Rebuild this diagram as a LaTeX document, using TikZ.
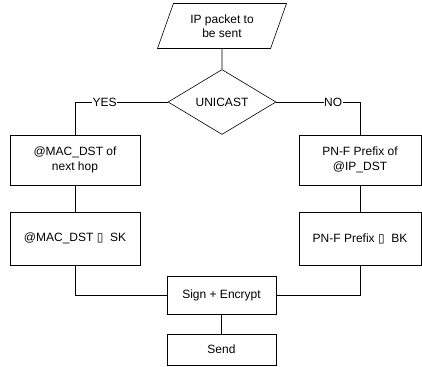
\documentclass[tikz,border=0pt]{standalone}
\usepackage{fontspec}
\setmainfont{Liberation Sans}
\newfontfamily\boxglyph{DejaVu Sans}
\usetikzlibrary{shapes.geometric}

\begin{document}
\begin{tikzpicture}[x=1pt,y=-1pt,
    every node/.style={font=\fontsize{12}{14.5}\selectfont},
    blk/.style={draw,line width=0.6pt,align=center,inner sep=2pt},
    line/.style={draw,line width=0.6pt},
    tag/.style={fill=white,inner sep=0.5pt}]
\useasboundingbox (0,0) rectangle (422,366);
% input and test
\node[blk,shape=trapezium,trapezium left angle=68,trapezium right angle=112,
      trapezium stretches=true,minimum width=130pt,minimum height=45pt] (pkt) at (222,26) {IP packet to\\be sent};
\node[blk,shape=diamond,minimum width=108pt,minimum height=65pt,aspect=1.66] (cast) at (222,102) {UNICAST};
% the two branches
\node[blk,minimum width=130pt,minimum height=50pt] (macdst) at (75,160) {@MAC\_DST of\\next hop};
\node[blk,minimum width=130pt,minimum height=53pt] (macsk) at (75,238.5) {@MAC\_DST {\boxglyph ▯}\ \ SK};
\node[blk,minimum width=122pt,minimum height=50pt] (pnf) at (360,160) {PN-F Prefix of\\@IP\_DST};
\node[blk,minimum width=122pt,minimum height=53pt] (pnfbk) at (360,238.5) {PN-F Prefix {\boxglyph ▯}\ \ BK};
% output
\node[blk,minimum width=109pt,minimum height=38pt] (sign) at (221.5,295) {Sign + Encrypt};
\node[blk,minimum width=109pt,minimum height=31pt] (send) at (221.5,349.5) {Send};

\draw[line] (pkt.south) -- (cast.north);
\draw[line] (cast.west) -| node[tag,pos=0.34] {YES} (macdst.north);
\draw[line] (cast.east) -| node[tag,pos=0.34] {NO} (pnf.north);
\draw[line] (macdst.south) -- (macsk.north);
\draw[line] (pnf.south) -- (pnfbk.north);
\draw[line] (macsk.south) |- (sign.west);
\draw[line] (pnfbk.south) |- (sign.east);
\draw[line] (sign.south) -- (send.north);
\end{tikzpicture}
\end{document}
